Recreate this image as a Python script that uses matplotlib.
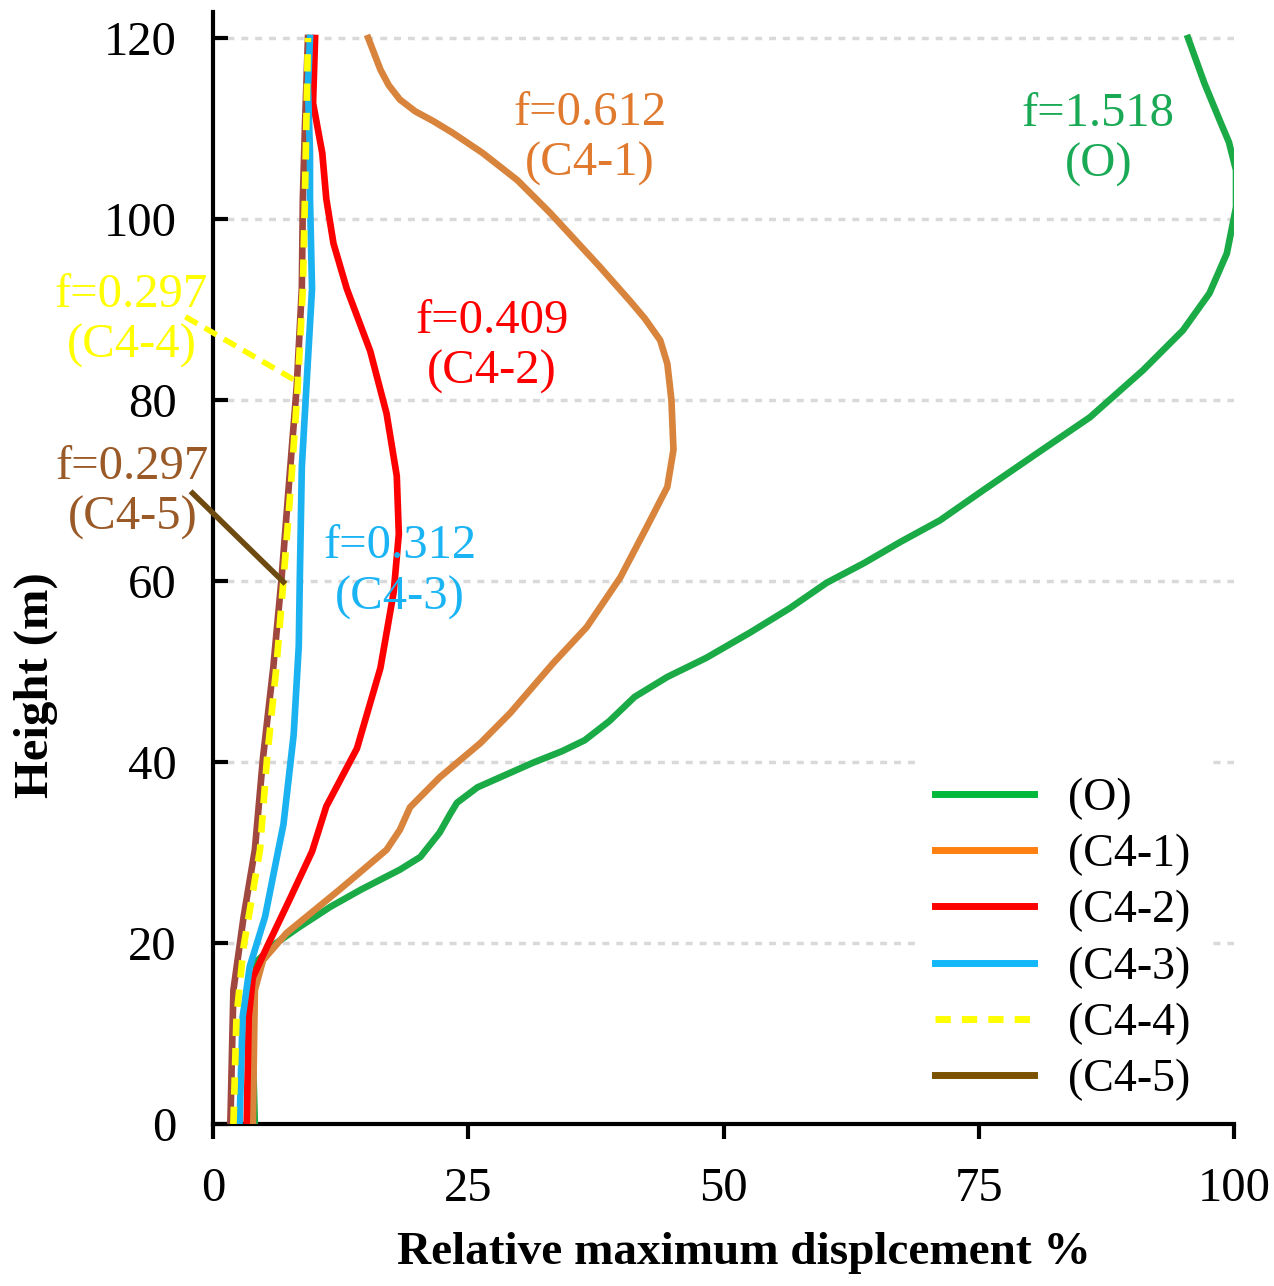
import numpy as np
import matplotlib
matplotlib.use('Agg')
import matplotlib.pyplot as plt
from matplotlib.lines import Line2D

plt.rcParams['font.family'] = ['Liberation Serif', 'DejaVu Serif']

labels = ['(O)', '(C4-1)', '(C4-2)', '(C4-3)', '(C4-4)', '(C4-5)']
freqs = ['1.518', '0.612', '0.409', '0.312', '0.297', '0.297']

h_o = [0, 12, 18, 20, 21.8, 24, 25.9, 28.1, 29.5, 32.2, 34.2, 35.5, 37.2, 39.9, 41.2, 42.4, 44.5, 47.2, 49.4,
       51.5, 54.3, 57, 59.8, 62, 64.3, 66.7, 70, 74.1, 78.1, 83.3, 87.7, 91.8, 96.2, 101.3, 105.4, 108.5,
       110.9, 115, 120]
d_o = [4.1, 3.8, 4.3, 6.2, 8.5, 11.5, 14.5, 18.3, 20.3, 22.2, 23.2, 23.9, 25.9, 31.3, 34.2, 36.4, 38.8, 41.3, 44.5,
       48.3, 52.6, 56.5, 60.1, 63.8, 67.3, 71.2, 75.4, 80.7, 85.9, 91.1, 95.0, 97.6, 99.3, 100.2, 100.2, 99.5,
       98.6, 97.1, 95.5]

h_c1 = [0, 14.8, 18.1, 21.1, 25.9, 30.3, 32.5, 35, 38.3, 42.1, 45.4, 50.9, 54.9, 60.4, 66, 70.4, 74.5, 80, 84,
        86.6, 89, 91, 94.7, 100.7, 104.3, 107.3, 109.5, 110.8, 111.9, 113.2, 114.8, 116.5, 120]
d_c1 = [3.9, 4.1, 4.9, 7.2, 12.4, 17.0, 18.3, 19.3, 22.2, 26.2, 29.1, 33.3, 36.6, 39.9, 42.5, 44.5, 45.1, 44.9, 44.5,
        43.8, 42.3, 40.8, 37.9, 33.0, 29.8, 26.4, 23.5, 21.6, 19.8, 18.3, 17.2, 16.4, 15.2]

h_c2 = [0, 11.8, 16.2, 19.6, 24.8, 30.1, 35.1, 41.5, 50.4, 58.8, 65.2, 71.6, 78.5, 85.4, 92.3, 97.3, 102.2,
        107.3, 112.8, 120]
d_c2 = [3.3, 3.5, 3.9, 5.3, 7.5, 9.7, 11.1, 14.1, 16.4, 17.7, 18.2, 18.0, 17.0, 15.4, 13.1, 11.8, 11.1,
        10.7, 9.8, 10.0]

h_c3 = [0, 11.8, 17.4, 22.9, 30.3, 33.1, 43, 52.8, 60.1, 72.6, 82.5, 92.3, 102.2, 107.3, 114.6, 120]
d_c3 = [2.6, 2.9, 3.6, 5.1, 6.4, 6.9, 7.9, 8.4, 8.5, 8.7, 9.2, 9.7, 9.5, 9.5, 9.3, 9.5]

h_c4 = [0, 11.8, 19.6, 30.3, 40.5, 50.4, 60.1, 71.6, 81.5, 92.3, 102.2, 120]
d_c4 = [2.0, 2.3, 3.0, 4.6, 5.3, 6.2, 6.9, 7.7, 8.3, 8.8, 9.0, 9.3]

h_c5 = [0, 14.8, 22.9, 30.3, 40.5, 50.4, 60.1, 71.6, 81.5, 92.3, 102.2, 110, 120]
d_c5 = [1.7, 2.0, 3.0, 4.1, 4.9, 5.9, 6.7, 7.5, 8.2, 8.7, 8.8, 9.0, 9.3]

line_colors = ['#1aaa46', '#d9843c', '#ff0000', '#1ab2f0', '#ffff00', '#a0483f']
legend_colors = ['#00b83a', '#ff8010', '#ff0000', '#12b8f8', '#ffff00', '#7b5200']
text_colors = ['#1aaa55', '#e07a2e', '#ff0000', '#1ab4f5', '#ffff00', '#9a5a28']

# label positions (data coords) and leader lines for C4-4 / C4-5
text_xy = [(86.7, 108.8), (36.9, 108.9), (27.3, 85.9), (18.3, 61.0), (-8.0, 88.8), (-7.9, 69.8)]
lead_c4 = [(-2.7, 89.2), (8.3, 82.0)]
lead_c5 = [(-2.0, 69.7), (6.9, 59.9)]

fig = plt.figure(figsize=(12.74, 12.86), dpi=100)
ax = fig.add_axes([213 / 1274, 1 - 1124 / 1286, (1234 - 213) / 1274, (1124 - 12) / 1286])

lw = 4.8
ax.plot(d_o, h_o, color=line_colors[0], lw=lw, zorder=3)
ax.plot(d_c1, h_c1, color=line_colors[1], lw=lw, zorder=3)
ax.plot(d_c2, h_c2, color=line_colors[2], lw=lw, zorder=3)
ax.plot(d_c5, h_c5, color=line_colors[5], lw=lw, zorder=3)
ax.plot(d_c3, h_c3, color=line_colors[3], lw=lw, zorder=3)
ax.plot(d_c4, h_c4, color=line_colors[4], lw=lw, ls=(0, (2.6, 1.8)), zorder=3)

for i in range(6):
    ax.text(text_xy[i][0], text_xy[i][1], 'f=' + freqs[i] + '\n' + labels[i], color=text_colors[i],
            fontsize=35, ha='center', va='center', multialignment='center', clip_on=False, zorder=4)

ax.plot([lead_c4[0][0], lead_c4[1][0]], [lead_c4[0][1], lead_c4[1][1]], color='#ffff00', lw=4,
        ls=(0, (2.5, 1.5)), clip_on=False, zorder=4)
ax.plot([lead_c5[0][0], lead_c5[1][0]], [lead_c5[0][1], lead_c5[1][1]], color='#6e4a10', lw=4,
        clip_on=False, zorder=4)

ax.set_xlim(0, 100)
ax.set_ylim(0, (1124 - 12) / 9.05)
ax.set_xticks([0, 25, 50, 75, 100])
ax.set_yticks([0, 20, 40, 60, 80, 100, 120])
ax.yaxis.grid(True, color='#d9d9d9', lw=2.5, ls=(0, (2, 2)))
ax.set_axisbelow(True)
for s in ['top', 'right']:
    ax.spines[s].set_visible(False)
for s in ['left', 'bottom']:
    ax.spines[s].set_linewidth(3)
ax.tick_params(axis='x', direction='out', length=11, width=3, labelsize=35, pad=20)
ax.tick_params(axis='y', direction='in', length=11, width=3, labelsize=35, pad=26)

ax.set_xlabel('Relative maximum displcement %', fontsize=34, fontweight='bold')
ax.xaxis.set_label_coords(0.52, -0.097)
ax.set_ylabel('Height (m)', fontsize=35, fontweight='bold')
ax.yaxis.set_label_coords(-0.152, 0.395)

handles = []
for i in range(6):
    handles.append(Line2D([], [], color=legend_colors[i], lw=5, ls=(0, (2.2, 1.6)) if i == 4 else '-'))
leg = ax.legend(handles, labels, loc='lower right', bbox_to_anchor=(0.98, 0.0), fontsize=33,
                handlelength=2.15, handletextpad=0.75, labelspacing=0.3, borderpad=0.4,
                borderaxespad=0.1, frameon=True, fancybox=False)
leg.get_frame().set_facecolor('white')
leg.get_frame().set_edgecolor('none')
leg.get_frame().set_alpha(1)

fig.savefig('out.png', dpi=100)
